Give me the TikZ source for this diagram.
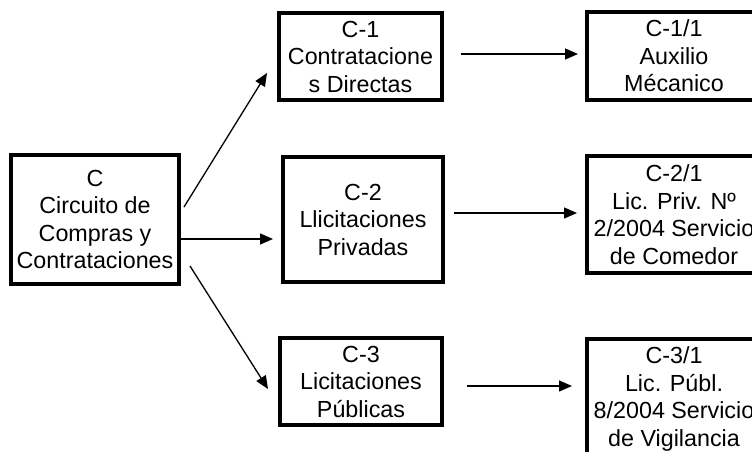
\documentclass[tikz,border=0pt]{standalone}
\usepackage{fontspec}
\setmainfont{Liberation Sans}
\usetikzlibrary{arrows.meta}
\begin{document}
\begin{tikzpicture}[x=1pt,y=-1pt,
  box/.style={draw,line width=4pt,align=center,inner sep=0pt,font=\fontsize{23.3}{27.5}\selectfont},
  arr/.style={line width=1.3pt,-{Triangle[length=13pt,width=11pt]}}]
\clip (0,0) rectangle (752,452);
\node[box,minimum width=168pt,minimum height=129pt] (c) at (95,219.5) {C\\Circuito de\\Compras y\\Contrataciones};
\node[box,minimum width=163pt,minimum height=87pt] (c1) at (360.5,56.5) {C-1\\Contratacione\\s Directas};
\node[box,minimum width=160pt,minimum height=125pt] (c2) at (363,219.5) {C-2\\Llicitaciones\\Privadas};
\node[box,minimum width=162pt,minimum height=87pt] (c3) at (361,381.5) {C-3\\Licitaciones\\Públicas};
\node[box,minimum width=174pt,minimum height=88pt] (c11) at (674,56) {C-1/1\\Auxilio\\Mécanico};
\node[box,minimum width=174pt,minimum height=117pt] (c21) at (674,214.5) {C-2/1\\Lic. Priv. Nº\\2/2004 Servicio\\de Comedor};
\node[box,minimum width=174pt,minimum height=120pt] (c31) at (674,399) {C-3/1\\Lic. Públ.\\8/2004 Servicio\\de Vigilancia};
\coordinate (s1) at (184,207); \coordinate (e1) at (267,73);
\coordinate (s2) at (181,239); \coordinate (e2) at (273,239);
\coordinate (s3) at (190,266); \coordinate (e3) at (268,389);
\coordinate (s4) at (461,54);  \coordinate (e4) at (578,54);
\coordinate (s5) at (454,213); \coordinate (e5) at (577,213);
\coordinate (s6) at (467,386); \coordinate (e6) at (572,386);
\draw[arr] (s1) -- (e1);
\draw[arr] (s2) -- (e2);
\draw[arr] (s3) -- (e3);
\draw[arr] (s4) -- (e4);
\draw[arr] (s5) -- (e5);
\draw[arr] (s6) -- (e6);
\end{tikzpicture}
\end{document}
